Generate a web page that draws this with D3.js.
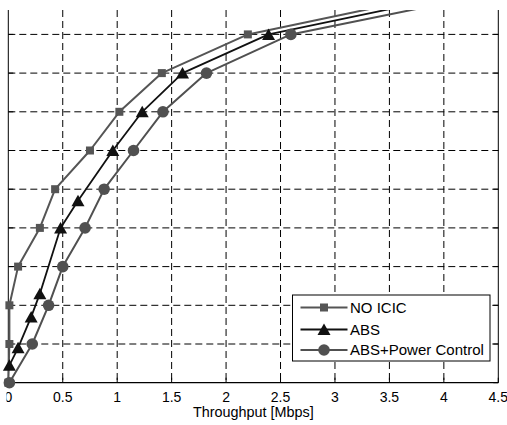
<!DOCTYPE html>
<html>
<head>
<meta charset="utf-8">
<script src="https://cdn.jsdelivr.net/npm/d3@7"></script>
<style>
  body { margin: 0; background: #fff; }
  svg { display: block; font-family: "Liberation Sans", Arial, sans-serif; }
</style>
</head>
<body>
<div id="chart"></div>
<script>
// throughput values [Mbps] and CDF levels
var noIcicX = [0, 0.01, 0.01, 0.09, 0.29, 0.43, 0.75, 1.02, 1.41, 2.20, 3.90];
var noIcicY = [0, 0.1, 0.2, 0.3, 0.4, 0.5, 0.6, 0.7, 0.8, 0.9, 1.0];

var absX = [0.01, 0.09, 0.21, 0.29, 0.48, 0.64, 0.96, 1.23, 1.60, 2.39, 4.09];
var absY = [0.045, 0.09, 0.17, 0.23, 0.40, 0.47, 0.60, 0.70, 0.80, 0.90, 1.0];

var pcX = [0.01, 0.22, 0.37, 0.50, 0.705, 0.88, 1.15, 1.42, 1.82, 2.595, 4.35];
var pcY = [0, 0.1, 0.2, 0.3, 0.4, 0.5, 0.6, 0.7, 0.8, 0.9, 1.0];

var xTicks = [0, 0.5, 1, 1.5, 2, 2.5, 3, 3.5, 4, 4.5];
var yTicks = [0, 0.1, 0.2, 0.3, 0.4, 0.5, 0.6, 0.7, 0.8, 0.9, 1.0];
var seriesNames = ["NO ICIC", "ABS", "ABS+Power Control"];

function init() {
  var w = 507, h = 425;
  var left = 8.3, right = 498.3, bottom = 382.7, top = 10;

  var x = d3.scaleLinear().domain([0, 4.5]).range([left, right]);
  var y = d3.scaleLinear().domain([0, 1]).range([bottom, -4.3]);

  var svg = d3.select("#chart").append("svg")
    .attr("width", w).attr("height", h);

  var defs = svg.append("defs");
  defs.append("clipPath").attr("id", "crop")
    .append("rect").attr("x", 0).attr("y", top).attr("width", w).attr("height", h - top);
  defs.append("clipPath").attr("id", "lab")
    .append("rect").attr("x", 6.5).attr("y", 0).attr("width", w).attr("height", h);

  var g = svg.append("g").attr("clip-path", "url(#crop)");

  // grid
  g.selectAll("line.vg").data(xTicks.slice(1, -1)).enter().append("line")
    .attr("x1", d => x(d)).attr("x2", d => x(d))
    .attr("y1", top).attr("y2", bottom)
    .attr("stroke", "#000").attr("stroke-width", 1).attr("stroke-dasharray", "7,4");
  g.selectAll("line.hg").data(yTicks.slice(1)).enter().append("line")
    .attr("x1", left).attr("x2", right)
    .attr("y1", d => y(d)).attr("y2", d => y(d))
    .attr("stroke", "#000").attr("stroke-width", 1).attr("stroke-dasharray", "7,4");

  // axes box (left, right, bottom) with inward ticks
  g.append("line").attr("x1", left).attr("x2", left).attr("y1", top).attr("y2", bottom).attr("stroke", "#000");
  g.append("line").attr("x1", right).attr("x2", right).attr("y1", top).attr("y2", bottom).attr("stroke", "#000");
  g.append("line").attr("x1", left).attr("x2", right).attr("y1", bottom).attr("y2", bottom).attr("stroke", "#000").attr("stroke-width", 1.2);

  g.selectAll("line.xt").data(xTicks).enter().append("line")
    .attr("x1", d => x(d)).attr("x2", d => x(d))
    .attr("y1", bottom).attr("y2", bottom - 5).attr("stroke", "#000");
  g.selectAll("line.ytl").data(yTicks).enter().append("line")
    .attr("x1", left).attr("x2", left + 5)
    .attr("y1", d => y(d)).attr("y2", d => y(d)).attr("stroke", "#000");
  g.selectAll("line.ytr").data(yTicks).enter().append("line")
    .attr("x1", right).attr("x2", right - 5)
    .attr("y1", d => y(d)).attr("y2", d => y(d)).attr("stroke", "#000");

  var tri = "M0,-6L6.5,5.5L-6.5,5.5Z";
  var series = [
    { xs: noIcicX, ys: noIcicY, color: "#555555", width: 2, mark: "square" },
    { xs: absX, ys: absY, color: "#111111", width: 1.8, mark: "tri" },
    { xs: pcX, ys: pcY, color: "#505050", width: 2, mark: "circle" }
  ];

  var line = d3.line().x(d => x(d[0])).y(d => y(d[1]));

  function drawMark(sel, s) {
    if (s.mark === "square") {
      sel.append("rect").attr("x", -4).attr("y", -4).attr("width", 8).attr("height", 8).attr("fill", s.color);
    } else if (s.mark === "tri") {
      sel.append("path").attr("d", tri).attr("fill", s.color);
    } else {
      sel.append("circle").attr("r", 5.8).attr("fill", s.color);
    }
  }

  series.forEach(function(s) {
    var pts = s.xs.map((v, i) => [v, s.ys[i]]);
    g.append("path").datum(pts).attr("d", line)
      .attr("fill", "none").attr("stroke", s.color).attr("stroke-width", s.width)
      .attr("stroke-linejoin", "round");
    var m = g.selectAll(null).data(pts).enter().append("g")
      .attr("transform", d => "translate(" + x(d[0]) + "," + y(d[1]) + ")");
    m.each(function() { drawMark(d3.select(this), s); });
  });

  // x tick labels and title
  svg.append("g").attr("clip-path", "url(#lab)")
    .selectAll("text").data(xTicks).enter().append("text")
    .attr("x", d => x(d)).attr("y", 401.7)
    .attr("text-anchor", "middle").attr("font-size", 14)
    .text(d => d);
  svg.append("text").attr("x", (left + right) / 2).attr("y", 416.5)
    .attr("text-anchor", "middle").attr("font-size", 14.4)
    .text("Throughput [Mbps]");

  // legend
  var lg = svg.append("g");
  lg.append("rect").attr("x", 292.5).attr("y", 295).attr("width", 197.5).attr("height", 66)
    .attr("fill", "#fff").attr("stroke", "#000").attr("stroke-width", 1);
  var rowY = [307.5, 329.5, 350];
  seriesNames.forEach(function(name, i) {
    var s = series[i];
    var r = lg.append("g").attr("transform", "translate(0," + rowY[i] + ")");
    r.append("line").attr("x1", 300.5).attr("x2", 347.5).attr("y1", 0).attr("y2", 0)
      .attr("stroke", s.color).attr("stroke-width", s.width);
    drawMark(r.append("g").attr("transform", "translate(324,0)"), s);
    r.append("text").attr("x", 350).attr("y", 5.3).attr("font-size", 15).text(name);
  });
}

window.onload = init;
</script>
</body>
</html>
